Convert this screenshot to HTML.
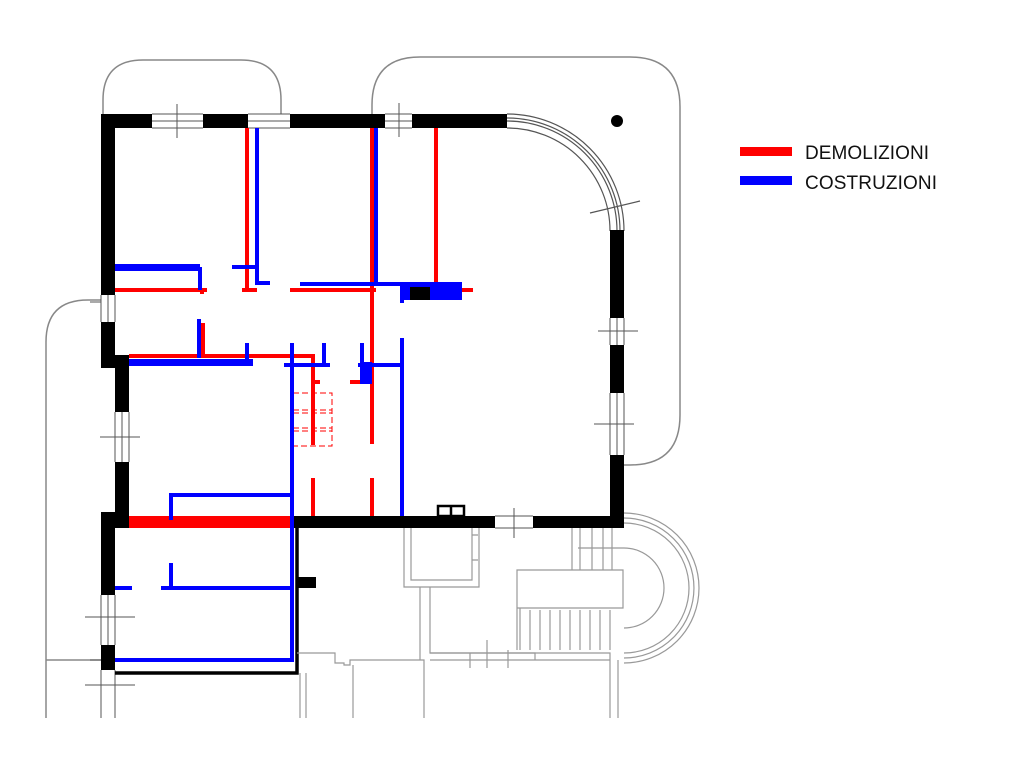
<!DOCTYPE html>
<html><head><meta charset="utf-8"><style>html,body{margin:0;background:#fff}svg{display:block}</style></head>
<body>
<svg width="1024" height="777" viewBox="0 0 1024 777" xmlns="http://www.w3.org/2000/svg" font-family="Liberation Sans, sans-serif">
<g fill="none" stroke="#888" stroke-width="1.5">
<path d="M103 114 V100 Q103 60 143 60 H241 Q281 60 281 100 V114"/>
<path d="M372 114 V105 Q372 57 420 57 H630 Q680 57 680 107 V415 Q680 465 630 465 H624"/>
<path d="M101 300 H88 Q46 300 46 342 V718"/>
<path d="M46 660 H101"/>
</g>
<g fill="none" stroke="#555" stroke-width="1.2">
<path d="M507 114 A117 117 0 0 1 624 231"/>
<path d="M507 118 A113 113 0 0 1 620 231"/>
<path d="M507 121 A110 110 0 0 1 617 231"/>
<path d="M507 128 A103 103 0 0 1 610 231"/>
<path d="M590 213 L640 201"/>
</g>
<g stroke="#555" stroke-width="1" fill="none">
<path d="M152 114H203M152 121H203M152 128H203M248 114H290M248 121H290M248 128H290M385 114H412M385 121H412M385 128H412"/>
<path d="M177 104V138M399 103V137"/>
<path d="M610 318V345M617 318V345M624 318V345M598 331H638M610 393V455M617 393V455M624 393V455M594 424H634"/>
<path d="M101 295V322M108 295V322M115 295V322M90 302H101"/>
<path d="M115 412V462M122 412V462M129 412V462M100 437H140"/>
<path d="M101 595V645M108 595V645M115 595V645M85 617H135M90 660H101M85 685H135M101 670V718M115 670V718"/>
<path d="M495 516H533M495 528H533M514 508V538"/>
</g>
<g fill="#000">
<rect x="101" y="114" width="51" height="14"/><rect x="203" y="114" width="45" height="14"/>
<rect x="290" y="114" width="95" height="14"/><rect x="412" y="114" width="95" height="14"/>
<rect x="101" y="114" width="14" height="181"/><rect x="101" y="322" width="14" height="46"/>
<rect x="115" y="355" width="14" height="57"/><rect x="115" y="462" width="14" height="66"/>
<rect x="101" y="512" width="14" height="83"/><rect x="101" y="645" width="14" height="25"/>
<rect x="610" y="230" width="14" height="88"/><rect x="610" y="345" width="14" height="48"/>
<rect x="610" y="455" width="14" height="73"/>
<rect x="290" y="516" width="205" height="12"/><rect x="533" y="516" width="91" height="12"/>
<rect x="297" y="577" width="19" height="11"/>
<circle cx="617" cy="121" r="6"/>
</g>
<path d="M297 528V673H115" stroke="#000" stroke-width="3.5" fill="none"/>
<g fill="none" stroke="#000" stroke-width="2.5"><rect x="438" y="506" width="26" height="10"/><path d="M451 506V516"/></g>
<g fill="none" stroke="#999" stroke-width="1.2">
<path d="M404 528V587H479V528M411 528V580H472V528M472 535H478M472 560H478"/>
<path d="M420 587V660M430 587V653H535V660"/>
<path d="M297 653H335V663H344V665H350V660H424V718M353 665V718M300 673V718M306 673V718"/>
<path d="M430 653H610V718M430 660H610M618 660V718M470 653V668M487 640V668M508 650V668"/>
<path d="M517 570H623V608H517ZM517 608V650M520 608V650"/>
<path d="M572 528V570M580 528V570M592 528V570M603 528V570M612 528V570"/>
<path d="M530 610V650M540 610V650M550 610V650M560 610V650M570 610V650M580 610V650M590 610V650M600 610V650M610 610V650"/>
<path d="M624 513A75 75 0 0 1 624 663M624 518A70 70 0 0 1 624 658M624 523A65 65 0 0 1 624 653M624 548A40 40 0 0 1 624 628M624 548H578"/>
</g>
<g stroke="#f00" stroke-width="4" fill="none">
<path d="M247 128V290M242 290H257M372 128V444M436 128V290"/>
<path d="M115 290H207M290 290H376M447 290H473M202 290V294"/>
<path d="M129 356H313V445M203 323V356M313 382H320M350 382H362"/>
<path d="M313 478V516M372 478V516"/>
</g>
<g stroke="#f00" stroke-width="1" fill="none" stroke-dasharray="6,3"><rect x="293" y="393" width="39" height="53"/><path d="M293 410H332M293 413H332M293 428H332M293 431H332"/></g>
<rect x="129" y="516" width="161" height="12" fill="#f00"/>
<g stroke="#00f" stroke-width="4" fill="none">
<path d="M257 128V283H270M232 267H257M376 128V284M300 284H460M402 290V303"/>
<path d="M200 267V290M199 319V358M247 343V360"/>
<path d="M292 343V660H115M284 365H330M324 343V366M362 343V368M358 365H402M402 338V516"/>
<path d="M292 495H171V520M115 588H132M161 588H292M171 563V588"/>
</g>
<rect x="115" y="264" width="85" height="7" fill="#00f"/>
<rect x="129" y="359" width="124" height="7" fill="#00f"/>
<rect x="400" y="282" width="62" height="18" fill="#00f"/>
<rect x="410" y="287" width="20" height="13" fill="#000"/>
<rect x="360" y="362" width="12" height="22" fill="#00f"/>
<rect x="740" y="147" width="52" height="9" fill="#f00"/>
<rect x="740" y="176" width="52" height="9" fill="#00f"/>
<text x="805" y="159" font-size="19" textLength="124" fill="#111">DEMOLIZIONI</text>
<text x="805" y="189" font-size="19" textLength="132" fill="#111">COSTRUZIONI</text>
</svg>
</body></html>
